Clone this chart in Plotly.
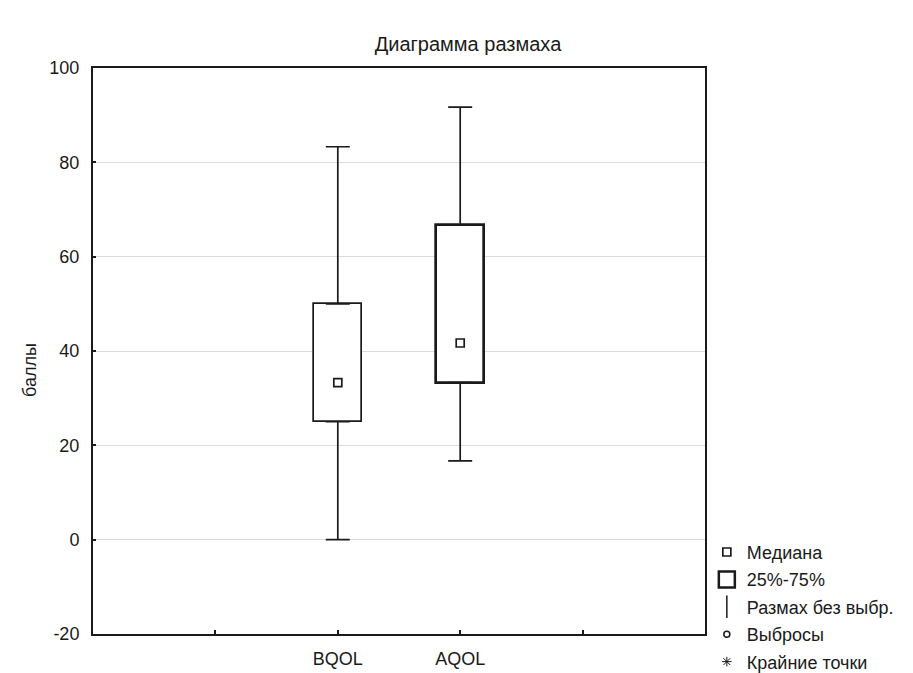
import plotly.graph_objects as go

categories = ["BQOL", "AQOL"]
lower_whisker = [0.0, 16.7]
q1 = [25.0, 33.3]
median = [33.3, 41.7]
q3 = [50.0, 66.7]
upper_whisker = [83.3, 91.7]

y_ticks = [-20, 0, 20, 40, 60, 80, 100]
title_text = "Диаграмма размаха"
y_title = "баллы"
legend_names = ["Медиана", "25%-75%", "Размах без выбр.", "Выбросы", "Крайние точки"]

FONT = "Liberation Sans"
INK = "#1a1a1a"

# the page places the figure 8px from the top-left corner of the window
W, H = 905, 665

pos = list(range(len(categories)))
box_line_widths = [1.7, 2.7]

fig = go.Figure()

# boxes (25%-75%)
fig.add_trace(go.Bar(
    x=pos, base=q1, y=[b - a for a, b in zip(q1, q3)], width=0.39,
    marker=dict(color="white", line=dict(color=INK, width=box_line_widths)),
    showlegend=False, hoverinfo="skip"))

# upper whiskers
fig.add_trace(go.Scatter(
    x=pos, y=q3, mode="markers", marker=dict(size=0.1, color="rgba(0,0,0,0)"),
    error_y=dict(type="data", symmetric=False,
                 array=[u - b for u, b in zip(upper_whisker, q3)],
                 arrayminus=[0] * len(pos), width=12, thickness=1.7, color=INK),
    showlegend=False, hoverinfo="skip"))
# lower whiskers
fig.add_trace(go.Scatter(
    x=pos, y=q1, mode="markers", marker=dict(size=0.1, color="rgba(0,0,0,0)"),
    error_y=dict(type="data", symmetric=False,
                 array=[0] * len(pos),
                 arrayminus=[a - l for a, l in zip(q1, lower_whisker)],
                 width=12, thickness=1.7, color=INK),
    showlegend=False, hoverinfo="skip"))

# median markers
fig.add_trace(go.Scatter(
    x=pos, y=median, mode="markers", name=legend_names[0],
    marker=dict(symbol="square", size=8, color="white", line=dict(color=INK, width=1.7)),
    legendgroup="a"))

# legend proxies
fig.add_trace(go.Scatter(
    x=[None], y=[None], mode="markers", name=legend_names[1],
    marker=dict(symbol="square", size=16, color="white", line=dict(color=INK, width=2.5)),
    legendgroup="b"))
fig.add_trace(go.Scatter(
    x=[None], y=[None], mode="markers", name=legend_names[2],
    marker=dict(symbol="line-ns-open", size=16, color=INK, line=dict(color=INK, width=1.5)),
    legendgroup="c"))
fig.add_trace(go.Scatter(
    x=[None], y=[None], mode="markers", name=legend_names[3],
    marker=dict(symbol="circle", size=6, color="white", line=dict(color=INK, width=1.5)),
    legendgroup="d"))
fig.add_trace(go.Scatter(
    x=[None], y=[None], mode="markers", name=legend_names[4],
    marker=dict(symbol="asterisk-open", size=8, color=INK, line=dict(color=INK, width=1)),
    legendgroup="e"))

fig.update_layout(
    width=W, height=H,
    margin=dict(l=85, r=208, t=60, b=39, autoexpand=False),
    paper_bgcolor="white", plot_bgcolor="white",
    font=dict(family=FONT, size=18, color=INK),
    title=dict(text=title_text, x=460 / W, xanchor="center", xref="container",
               y=1 - 36 / H, yanchor="middle", yref="container",
               font=dict(family=FONT, size=20, color=INK)),
    bargap=0,
    showlegend=True,
    legend=dict(x=1.003, xanchor="left", y=0.177, yanchor="top",
                font=dict(family=FONT, size=18, color=INK),
                traceorder="grouped", tracegroupgap=1,
                bgcolor="rgba(0,0,0,0)", borderwidth=0),
    annotations=[dict(text=y_title, xref="paper", yref="paper",
                      x=(30 - 93) / 612, y=(634 - 370) / 566,
                      xanchor="center", yanchor="middle", textangle=-90,
                      showarrow=False, font=dict(family=FONT, size=18, color=INK))],
)

fig.update_xaxes(
    range=[-2, 3], tickmode="array", tickvals=[-1] + pos + [len(pos)],
    ticktext=[""] + categories + [""],
    ticks="inside", ticklen=4, tickwidth=1.5, tickcolor=INK,
    showline=True, linecolor=INK, linewidth=2, mirror=True,
    showgrid=False, zeroline=False, ticklabelstandoff=7,
    tickfont=dict(family=FONT, size=18, color=INK))
fig.update_yaxes(
    range=[-20, 100], tickmode="array", tickvals=y_ticks,
    ticktext=[str(v) for v in y_ticks],
    ticks="inside", ticklen=3, tickwidth=1.5, tickcolor=INK,
    showline=True, linecolor=INK, linewidth=2, mirror=True,
    showgrid=True, gridcolor="#dcdcdc", gridwidth=1, zeroline=False,
    ticklabelstandoff=8,
    tickfont=dict(family=FONT, size=18, color=INK))

fig.write_html("out.html")
